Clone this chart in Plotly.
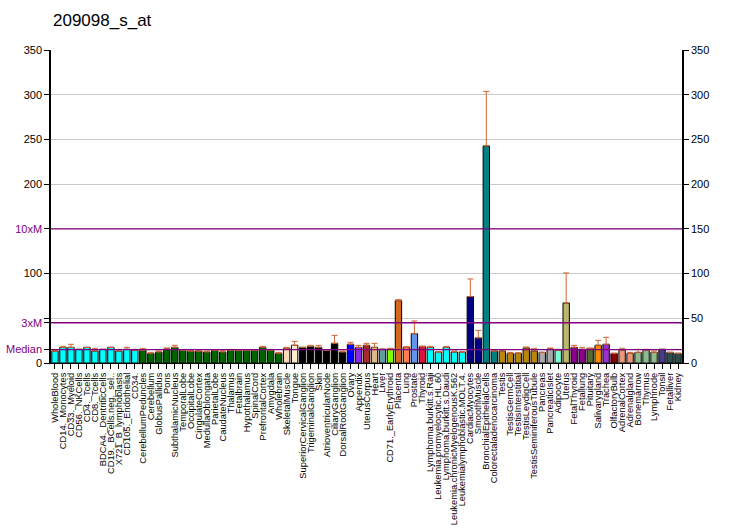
import plotly.graph_objects as go

title = "209098_s_at"

categories = [
    "WholeBlood", "CD14._Monocytes", "CD33._Myeloid", "CD56._NKCells", "CD4._Tcells",
    "CD8._Tcells", "BDCA4._DentriticCells", "CD19._BCells.neg._sel..", "X721_B_lymphoblasts",
    "CD105._Endothelial", "CD34.", "CerebellumPeduncles", "Cerebellum", "GlobusPallidus",
    "Pons", "SubthalamicNucleus", "TemporalLobe", "OccipitalLobe", "CingulateCortex",
    "MedullaOblongata", "ParietalLobe", "CaudateNucleus", "Thalamus", "Fetalbrain",
    "Hypothalamus", "SpinalCord", "PrefrontalCortex", "Amygdala", "Wholebrain",
    "SkeletalMuscle", "Tongue", "SuperiorCervicalGanglion", "TrigeminalGanglion", "Skin",
    "AtrioventricularNode", "CiliaryGanglion", "DorsalRootGanglion", "Ovary", "Appendix",
    "UterusCorpus", "Heart", "Liver", "CD71._EarlyErythroid", "Placenta", "Lung",
    "Prostate", "Thyroid", "Lymphoma.burkitt.s.Raji", "Leukemia.promyelocytic.HL.60",
    "Lymphoma.burkitt.s.Daudi", "Leukemia.chronicMyelogenousK.562",
    "Leukemialymphoblastic.MOLT.4.", "CardiacMyocytes", "SmoothMuscle",
    "BronchialEpithelialCells", "Colorectaladenocarcinoma", "Testis", "TestisGermCell",
    "TestisInterstitial", "TestisLeydigCell", "TestisSeminiferousTubule", "Pancreas",
    "PancreaticIslet", "Adipocyte", "Uterus", "FetalThyroid", "Fetallung", "Pituitary",
    "Salivarygland", "Trachea", "OlfactoryBulb", "AdrenalCortex", "Adrenalgland",
    "Bonemarrow", "Thymus", "Lymphnode", "Tonsil", "Fetalliver", "Kidney",
]

values = [
    13.4, 17.5, 17.5, 15.3, 17.5, 13.4, 15.3, 17.5, 13.4, 15.3, 14.2,
    14.2, 10.8, 12.3, 15.7, 17.5, 14.2, 13.4, 13.4, 12.3, 14.2, 12.3, 14.2, 14.2, 14.2, 14.2, 17.5, 14.2, 10.8,
    16.4, 19.8, 17.5, 18.6, 17.5, 14.2, 22.0, 12.3, 20.9, 17.5, 19.8,
    17.5, 15.3, 15.7, 69.7, 17.5, 32.8, 18.6, 17.5, 12.3, 17.5, 12.3, 12.3, 74.2, 28.0, 242.7, 13.4,
    13.4, 10.8, 10.8, 16.8, 13.4, 11.9, 15.7, 14.2, 67.1, 17.5, 15.3, 16.4, 19.8, 20.9, 10.8, 14.2,
    10.8, 11.9, 14.2, 11.9, 15.3, 11.9, 10.8,
]

errors = [
    0, 1.1, 3.4, 0, 0, 3.0, 0, 0, 1.9, 2.2, 1.1,
    2.2, 1.1, 1.1, 1.1, 2.3, 0, 0, 0, 1.1, 0, 1.5, 1.1, 0, 0, 0, 1.1, 1.1, 1.1,
    1.1, 4.4, 0, 1.1, 2.2, 0, 8.9, 1.1, 2.2, 2.2, 2.2,
    4.5, 0.4, 0.7, 1.1, 0.7, 14.2, 0, 1.1, 0, 1.1, 1.1, 0, 19.8, 8.5, 61.0, 0,
    0, 1.1, 0.7, 1.1, 3.0, 0, 1.1, 1.1, 33.6, 2.3, 2.2, 0, 5.5, 7.8, 0, 2.2,
    1.1, 3.4, 1.1, 1.5, 0, 0, 0,
]

colors = (
    ["#00FFFF"] * 11
    + ["#006400"] * 18
    + ["#FFDAB9", "#FFEBCD"]
    + ["#000000"] * 6
    + ["#0000FF", "#8A2BE2", "#A52A2A", "#DEB887", "#5F9EA0", "#7FFF00", "#D2691E",
       "#FF7F50", "#6495ED", "#DC143C"]
    + ["#00FFFF"] * 5
    + ["#000080"] * 2
    + ["#008080"] * 2
    + ["#B8860B"] * 5
    + ["#A9A9A9"] * 2
    + ["#7FFFD4", "#BDB76B"]
    + ["#8B008B"] * 2
    + ["#556B2F", "#FF8C00", "#9932CC", "#8B0000"]
    + ["#E9967A"] * 2
    + ["#8FBC8F"] * 3
    + ["#483D8B"]
    + ["#2F4F4F"] * 2
)

median = 15.0
right_ticks = [0, 50, 100, 150, 200, 250, 300, 350]

PURPLE = "#800080"
FONT = "Arial, Liberation Sans, sans-serif"

xs = list(range(1, len(categories) + 1))

fig = go.Figure()
fig.add_trace(go.Bar(
    x=xs, y=values, width=0.8,
    marker=dict(color=colors, line=dict(color="black", width=1)),
    error_y=dict(type="data", array=errors, arrayminus=[0] * len(errors), symmetric=False,
                 color="#CC6633", thickness=1, width=3),
    showlegend=False, hoverinfo="x+y",
))
# invisible trace to activate right axis
fig.add_trace(go.Scatter(x=[1], y=[0], yaxis="y2", mode="markers",
                         marker=dict(opacity=0), showlegend=False, hoverinfo="skip"))

left_vals = [0, median, 3 * median, 50, 100, 10 * median, 200, 250, 300, 350]
left_text = ["0", f'<span style="color:{PURPLE}">Median</span>',
             f'<span style="color:{PURPLE}">3xM</span>', "", "100",
             f'<span style="color:{PURPLE}">10xM</span>', "200", "250", "300", "350"]

for m in (median, 3 * median, 10 * median):
    fig.add_shape(type="line", xref="paper", x0=0, x1=1, yref="y", y0=m, y1=m,
                  line=dict(color=PURPLE, width=1.3), layer="above")

fig.update_layout(
    width=732, height=530,
    margin=dict(l=51, r=50, t=50, b=167),
    paper_bgcolor="white", plot_bgcolor="white",
    font=dict(family=FONT, size=11, color="black"),
    title=dict(text=title, x=53 / 732, xanchor="left", xref="container",
               y=1 - 20 / 530, yanchor="middle", yref="container",
               font=dict(size=17, family=FONT, color="black")),
    bargap=0.2,
    xaxis=dict(
        range=[0.5, len(categories) + 0.5], tickmode="array", tickvals=xs,
        ticktext=categories, tickangle=-90, ticks="outside", ticklen=5,
        tickcolor="black", showline=True, linecolor="black", linewidth=1,
        showgrid=False, zeroline=False, tickfont=dict(size=9.3, family=FONT),
        automargin=False,
    ),
    yaxis=dict(
        range=[0, 350], tickmode="array", tickvals=left_vals, ticktext=left_text,
        ticks="outside", ticklen=5, tickcolor="black", showline=True,
        linecolor="black", linewidth=1.5, showgrid=False, zeroline=False,
        tickfont=dict(size=11, family=FONT), automargin=False,
    ),
    yaxis2=dict(
        range=[0, 350], overlaying="y", side="right", tickmode="array",
        tickvals=right_ticks, ticks="outside", ticklen=5, tickcolor="black",
        showline=True, linecolor="black", linewidth=1.5, showgrid=True,
        gridcolor="#C8C8C8", gridwidth=1, zeroline=False,
        tickfont=dict(size=11, family=FONT, color="black"), automargin=False,
    ),
)

fig.write_html("out.html")
